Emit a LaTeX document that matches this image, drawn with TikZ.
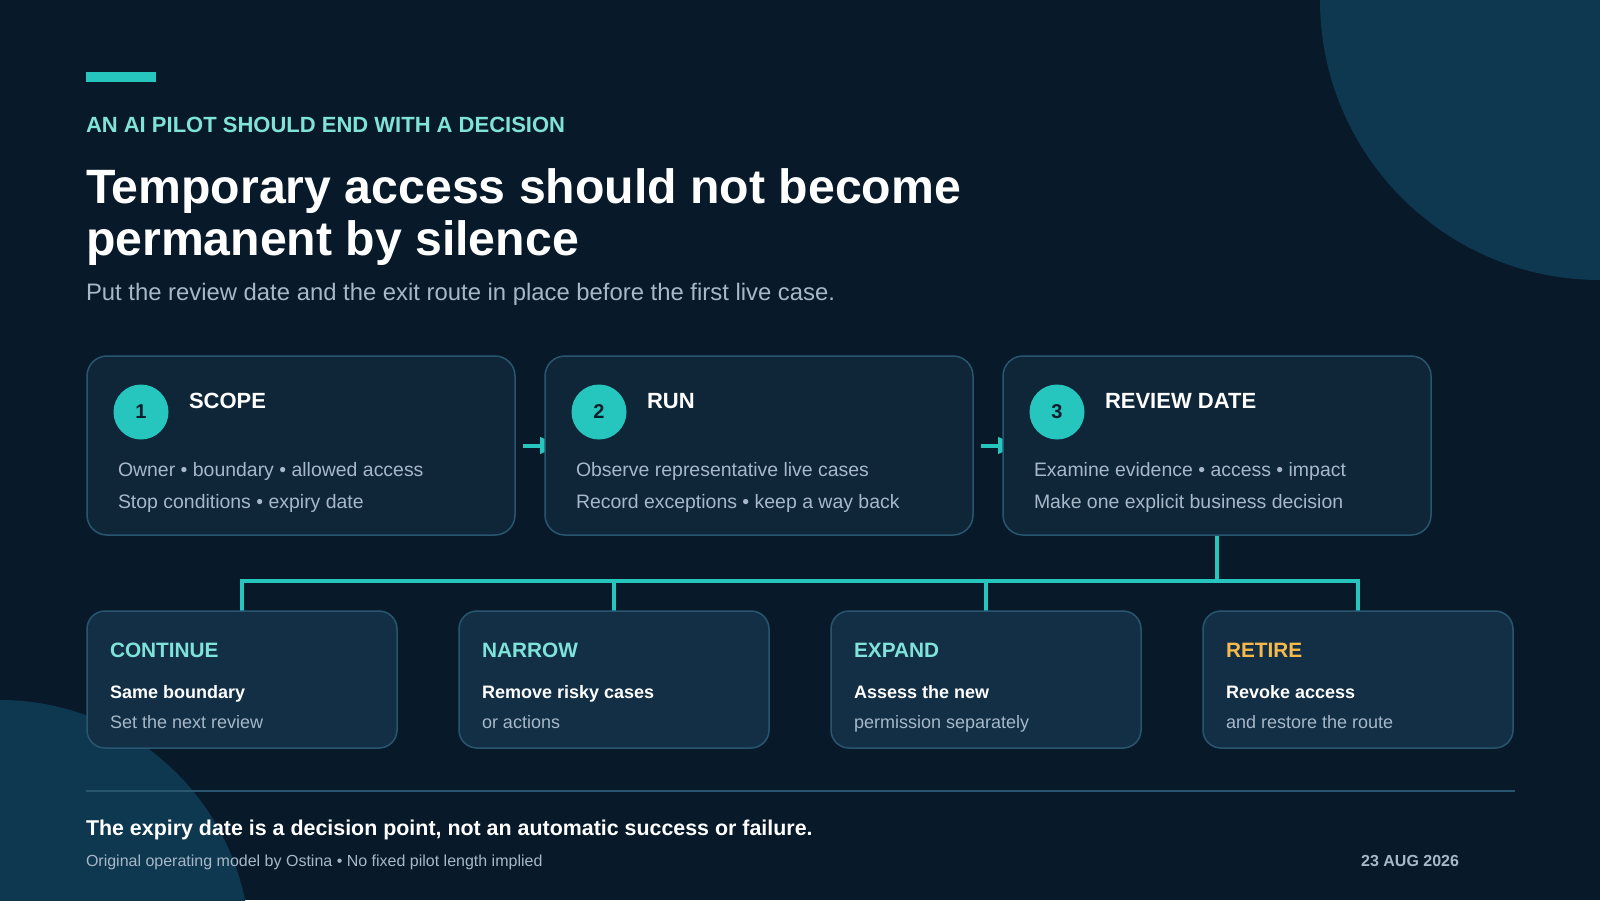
\documentclass[tikz,border=0pt]{standalone}
\usepackage{fontspec}
\setmainfont{Liberation Sans}
\usetikzlibrary{arrows.meta}
\definecolor{bg}{HTML}{081A29}
\definecolor{blob}{HTML}{0E3750}
\definecolor{boxa}{HTML}{0F2639}
\definecolor{boxb}{HTML}{122F46}
\definecolor{edge}{HTML}{29566F}
\definecolor{teal}{HTML}{26C6BF}
\definecolor{lteal}{HTML}{7FE3DA}
\definecolor{muted}{HTML}{A7B8C8}
\definecolor{amber}{HTML}{F5B94C}
\definecolor{ink}{HTML}{0A1E2E}
\newcommand{\fs}[1]{\fontsize{#1}{#1}\selectfont}
\pgfdeclarelayer{bgl}
\pgfdeclarelayer{back}
\pgfsetlayers{bgl,back,main}
\tikzset{
 topbox/.style={draw=edge, line width=1.5pt, fill=boxa, rounded corners=20pt, minimum width=428pt, minimum height=179pt, inner sep=0pt, outer sep=0pt},
 botbox/.style={draw=edge, line width=1.5pt, fill=boxb, rounded corners=18pt, minimum width=310pt, minimum height=137pt, inner sep=0pt, outer sep=0pt},
 txt/.style={inner sep=0pt, outer sep=0pt, anchor=base west},
 numdot/.style={circle, fill=teal, minimum size=55pt, inner sep=0pt, text=ink, font=\bfseries\fs{20}},
 conn/.style={draw=teal, line width=4pt},
 flow/.style={draw=teal, line width=4pt, -{Triangle[length=20pt,width=16pt]}},
}
\newcommand{\topcard}[6]{%
 \node[topbox] (#1) at (#2,445.5) {};
 \node[numdot] (#1n) at ([shift={(54,56)}]#1.north west) {#3};
 \node[txt, text=white, font=\bfseries\fs{22}] (#1t) at ([shift={(102,52)}]#1.north west) {#4};
 \node[txt, text=muted, font=\fs{19.45}] (#1a) at ([shift={(31,120.5)}]#1.north west) {#5};
 \node[txt, text=muted, font=\fs{19.45}] (#1b) at ([shift={(31,152)}]#1.north west) {#6};
}
\newcommand{\botcard}[6]{%
 \node[botbox] (#1) at (#2,679.5) {};
 \node[txt, text=#3, font=\bfseries\fs{20.8}] (#1h) at ([shift={(23,46)}]#1.north west) {#4};
 \node[txt, text=white, font=\bfseries\fs{18}] (#1a) at ([shift={(23,87)}]#1.north west) {#5};
 \node[txt, text=muted, font=\fs{18}] (#1b) at ([shift={(23,117.5)}]#1.north west) {#6};
}
\begin{document}
\begin{tikzpicture}[x=1pt,y=-1pt]
\useasboundingbox (0,0) rectangle (1600,900);
\begin{pgfonlayer}{bgl}
\fill[bg] (0,0) rectangle (1600,900);
\begin{scope}
\clip (0,0) rectangle (1600,900);
\fill[blob] (1600,0) circle (280pt);
\fill[blob] (0,950) circle (250pt);
\end{scope}
\end{pgfonlayer}

% header
\fill[teal] (86,72) rectangle (156,82);
\node[txt, text=lteal, font=\bfseries\fs{22}] (kicker) at (86,132) {AN AI PILOT SHOULD END WITH A DECISION};
\node[txt, text=white, font=\bfseries\fs{48.2}] (title1) at (86,203) {Temporary access should not become};
\node[txt, text=white, font=\bfseries\fs{48.2}] (title2) at (86,255) {permanent by silence};
\node[txt, text=muted, font=\fs{23.85}] (sub) at (86,300) {Put the review date and the exit route in place before the first live case.};

% top cards
\topcard{t1}{301}{1}{SCOPE}{Owner • boundary • allowed access}{Stop conditions • expiry date}
\topcard{t2}{759}{2}{RUN}{Observe representative live cases}{Record exceptions • keep a way back}
\topcard{t3}{1217}{3}{REVIEW DATE}{Examine evidence • access • impact}{Make one explicit business decision}

% bottom cards
\botcard{c1}{242}{lteal}{CONTINUE}{Same boundary}{Set the next review}
\botcard{c2}{614}{lteal}{NARROW}{Remove risky cases}{or actions}
\botcard{c3}{986}{lteal}{EXPAND}{Assess the new}{permission separately}
\botcard{c4}{1358}{amber}{RETIRE}{Revoke access}{and restore the route}

% connectors
\coordinate (bus) at (0,581);
\begin{pgfonlayer}{back}
\draw[flow] ([xshift=8pt]t1.east) -- ([xshift=15pt]t2.west);
\draw[flow] ([xshift=8pt]t2.east) -- ([xshift=15pt]t3.west);
\draw[conn] (t3.south) -- (t3.south |- bus);
\draw[conn, line join=miter] (c1.north) -- (c1.north |- bus) -- (c4.north |- bus) -- (c4.north);
\draw[conn] (c2.north) -- (c2.north |- bus);
\draw[conn] (c3.north) -- (c3.north |- bus);
\end{pgfonlayer}

% footer
\draw[edge, line width=2pt] (86,791) -- (1515,791);
\node[txt, text=white, font=\bfseries\fs{21.4}] (f1) at (86,835) {The expiry date is a decision point, not an automatic success or failure.};
\node[txt, text=muted, font=\fs{16}] (f2) at (86,866) {Original operating model by Ostina • No fixed pilot length implied};
\node[inner sep=0pt, outer sep=0pt, anchor=base east, text=muted, font=\bfseries\fs{16}] (f3) at (1459,866) {23 AUG 2026};
\end{tikzpicture}
\end{document}
